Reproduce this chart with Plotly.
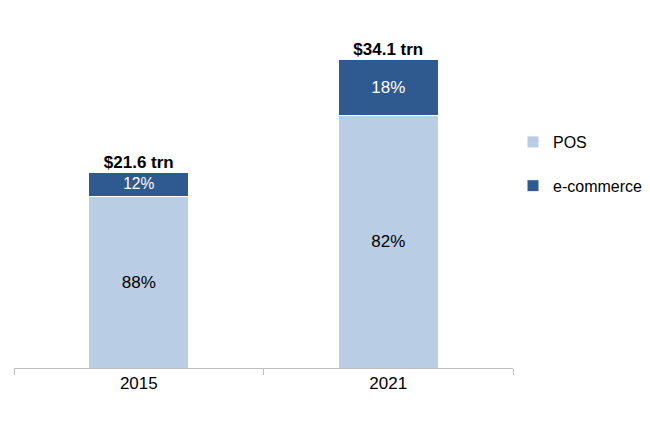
import plotly.graph_objects as go

years = ["2015", "2021"]
totals = [21.6, 34.1]
pos_pct = [88, 82]
ecom_pct = [12, 18]
total_labels = ["<b>$21.6 trn</b>", "<b>$34.1 trn</b>"]

pos_vals = [t * p / 100 for t, p in zip(totals, pos_pct)]
ecom_vals = [t * p / 100 for t, p in zip(totals, ecom_pct)]

fig = go.Figure()
fig.add_bar(x=years, y=pos_vals, name="POS", legendgroup="b", marker=dict(color="#B9CDE5", line=dict(color="white", width=1)),
            text=[f"{p}%" for p in pos_pct], textposition="inside", insidetextanchor="middle",
            textfont=dict(color="black", size=17))
fig.add_bar(x=years, y=ecom_vals, name="e-commerce", legendgroup="a", marker=dict(color="#2F5A8F", line=dict(color="white", width=1)),
            text=[f"{p}%" for p in ecom_pct], textposition="inside", insidetextanchor="middle",
            textfont=dict(color="white", size=17))
fig.add_scatter(x=years, y=totals, mode="text", text=total_labels, textposition="top center",
                textfont=dict(size=17, color="black", family="Liberation Sans"), showlegend=False, cliponaxis=False)

fig.update_layout(
    width=650, height=423, barmode="stack", bargap=0.6,
    paper_bgcolor="white", plot_bgcolor="white",
    font=dict(family="Liberation Sans, Arial", size=16, color="black"),
    margin=dict(l=0, r=145, t=20, b=55),
    legend=dict(x=1.0, y=0.6, xanchor="left", yanchor="middle", traceorder="reversed+grouped",
                font=dict(size=16), itemwidth=30, tracegroupgap=20),
    xaxis=dict(showline=True, linecolor="#BFBFBF", ticks="outside", tickcolor="#BFBFBF", ticklen=6,
               tickson="boundaries", tickfont=dict(size=17), domain=[0.012, 1]),
    yaxis=dict(visible=False, range=[0, 37.6]),
)
fig.update_layout(margin=dict(b=63))
fig.write_html("out.html")
